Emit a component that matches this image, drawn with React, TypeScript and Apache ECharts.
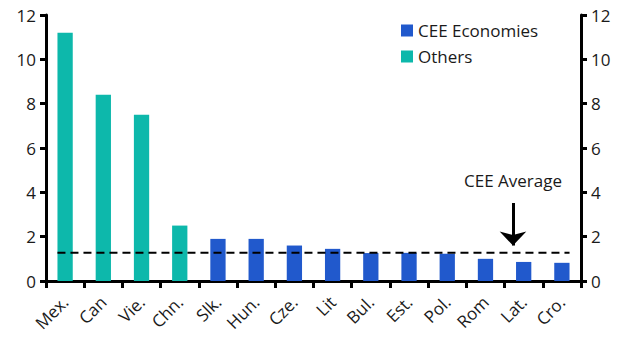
import React, { useEffect, useRef } from "react";
import * as echarts from "echarts";

const categories = ["Mex.", "Can", "Vie.", "Chn.", "Slk.", "Hun.", "Cze.", "Lit", "Bul.", "Est.", "Pol.", "Rom", "Lat.", "Cro."];
const othersValues: (number | string)[] = [11.2, 8.4, 7.5, 2.5, "-", "-", "-", "-", "-", "-", "-", "-", "-", "-"];
const ceeValues: (number | string)[] = ["-", "-", "-", "-", 1.9, 1.9, 1.6, 1.45, 1.26, 1.27, 1.23, 1.0, 0.86, 0.82];
const ceeAverage = 1.28;
const yTicks = [0, 2, 4, 6, 8, 10, 12];

const FONT = "Open Sans";
const TEXT = "#1a1a1a";
const FS = 17;

export default function App() {
  const ref = useRef<HTMLDivElement>(null);
  useEffect(() => {
    document.body.style.margin = "0";
    if (!ref.current) return;
    const chart = echarts.init(ref.current, undefined, { renderer: "svg" });
    const axisLine = { show: true, lineStyle: { color: "#000", width: 3 } };
    const n = categories.length;
    chart.setOption({
      animation: false,
      textStyle: { fontFamily: FONT },
      grid: { left: 46, right: 47, top: 15, bottom: 74 },
      legend: {
        orient: "vertical",
        left: 396,
        top: 17,
        itemWidth: 12,
        itemHeight: 12,
        itemGap: 9,
        icon: "rect",
        data: ["CEE Economies", "Others"],
        textStyle: { fontSize: FS, color: TEXT, fontFamily: FONT },
      },
      xAxis: [
        {
          type: "category",
          data: categories,
          axisLine,
          axisTick: { show: true, length: 7, lineStyle: { color: "#000", width: 3 } },
          axisLabel: { rotate: 45, fontSize: FS, color: TEXT, margin: 18, fontFamily: FONT },
        },
        { type: "value", min: 0, max: n, show: false },
      ],
      yAxis: [
        {
          type: "value",
          min: yTicks[0],
          max: yTicks[yTicks.length - 1],
          interval: 2,
          position: "left",
          axisLine,
          axisTick: { show: true, length: 6, lineStyle: { color: "#000", width: 3 } },
          splitLine: { show: false },
          axisLabel: { fontSize: FS, color: TEXT, margin: 10, fontFamily: FONT },
        },
        {
          type: "value",
          min: yTicks[0],
          max: yTicks[yTicks.length - 1],
          interval: 2,
          position: "right",
          axisLine,
          axisTick: { show: true, length: 6, lineStyle: { color: "#000", width: 3 } },
          splitLine: { show: false },
          axisLabel: { fontSize: FS, color: TEXT, margin: 10, fontFamily: FONT },
        },
      ],
      series: [
        {
          name: "CEE Economies",
          type: "bar",
          stack: "a",
          data: ceeValues,
          barWidth: "40%",
          itemStyle: { color: "#2159CC" },
        },
        {
          name: "Others",
          type: "bar",
          stack: "a",
          data: othersValues,
          barWidth: "40%",
          itemStyle: { color: "#0DB8AB" },
        },
        {
          name: "avg",
          type: "line",
          xAxisIndex: 1,
          yAxisIndex: 0,
          data: [[0.3, ceeAverage], [n - 0.3, ceeAverage]],
          symbol: "none",
          lineStyle: { color: "#000", width: 2, type: [8, 5] },
          markLine: {
            silent: true,
            symbol: ["none", "arrow"],
            symbolSize: [20, 14],
            lineStyle: { color: "#000", width: 3, type: "solid" },
            label: {
              show: true,
              position: "start",
              formatter: "CEE Average",
              fontSize: FS,
              color: TEXT,
              fontFamily: FONT,
              distance: 14,
            },
            data: [[{ coord: [12.22, 3.52] }, { coord: [12.22, 1.6] }]],
          },
        },
      ],
    });
    return () => chart.dispose();
  }, []);
  return <div ref={ref} style={{ width: 628, height: 355 }} />;
}
